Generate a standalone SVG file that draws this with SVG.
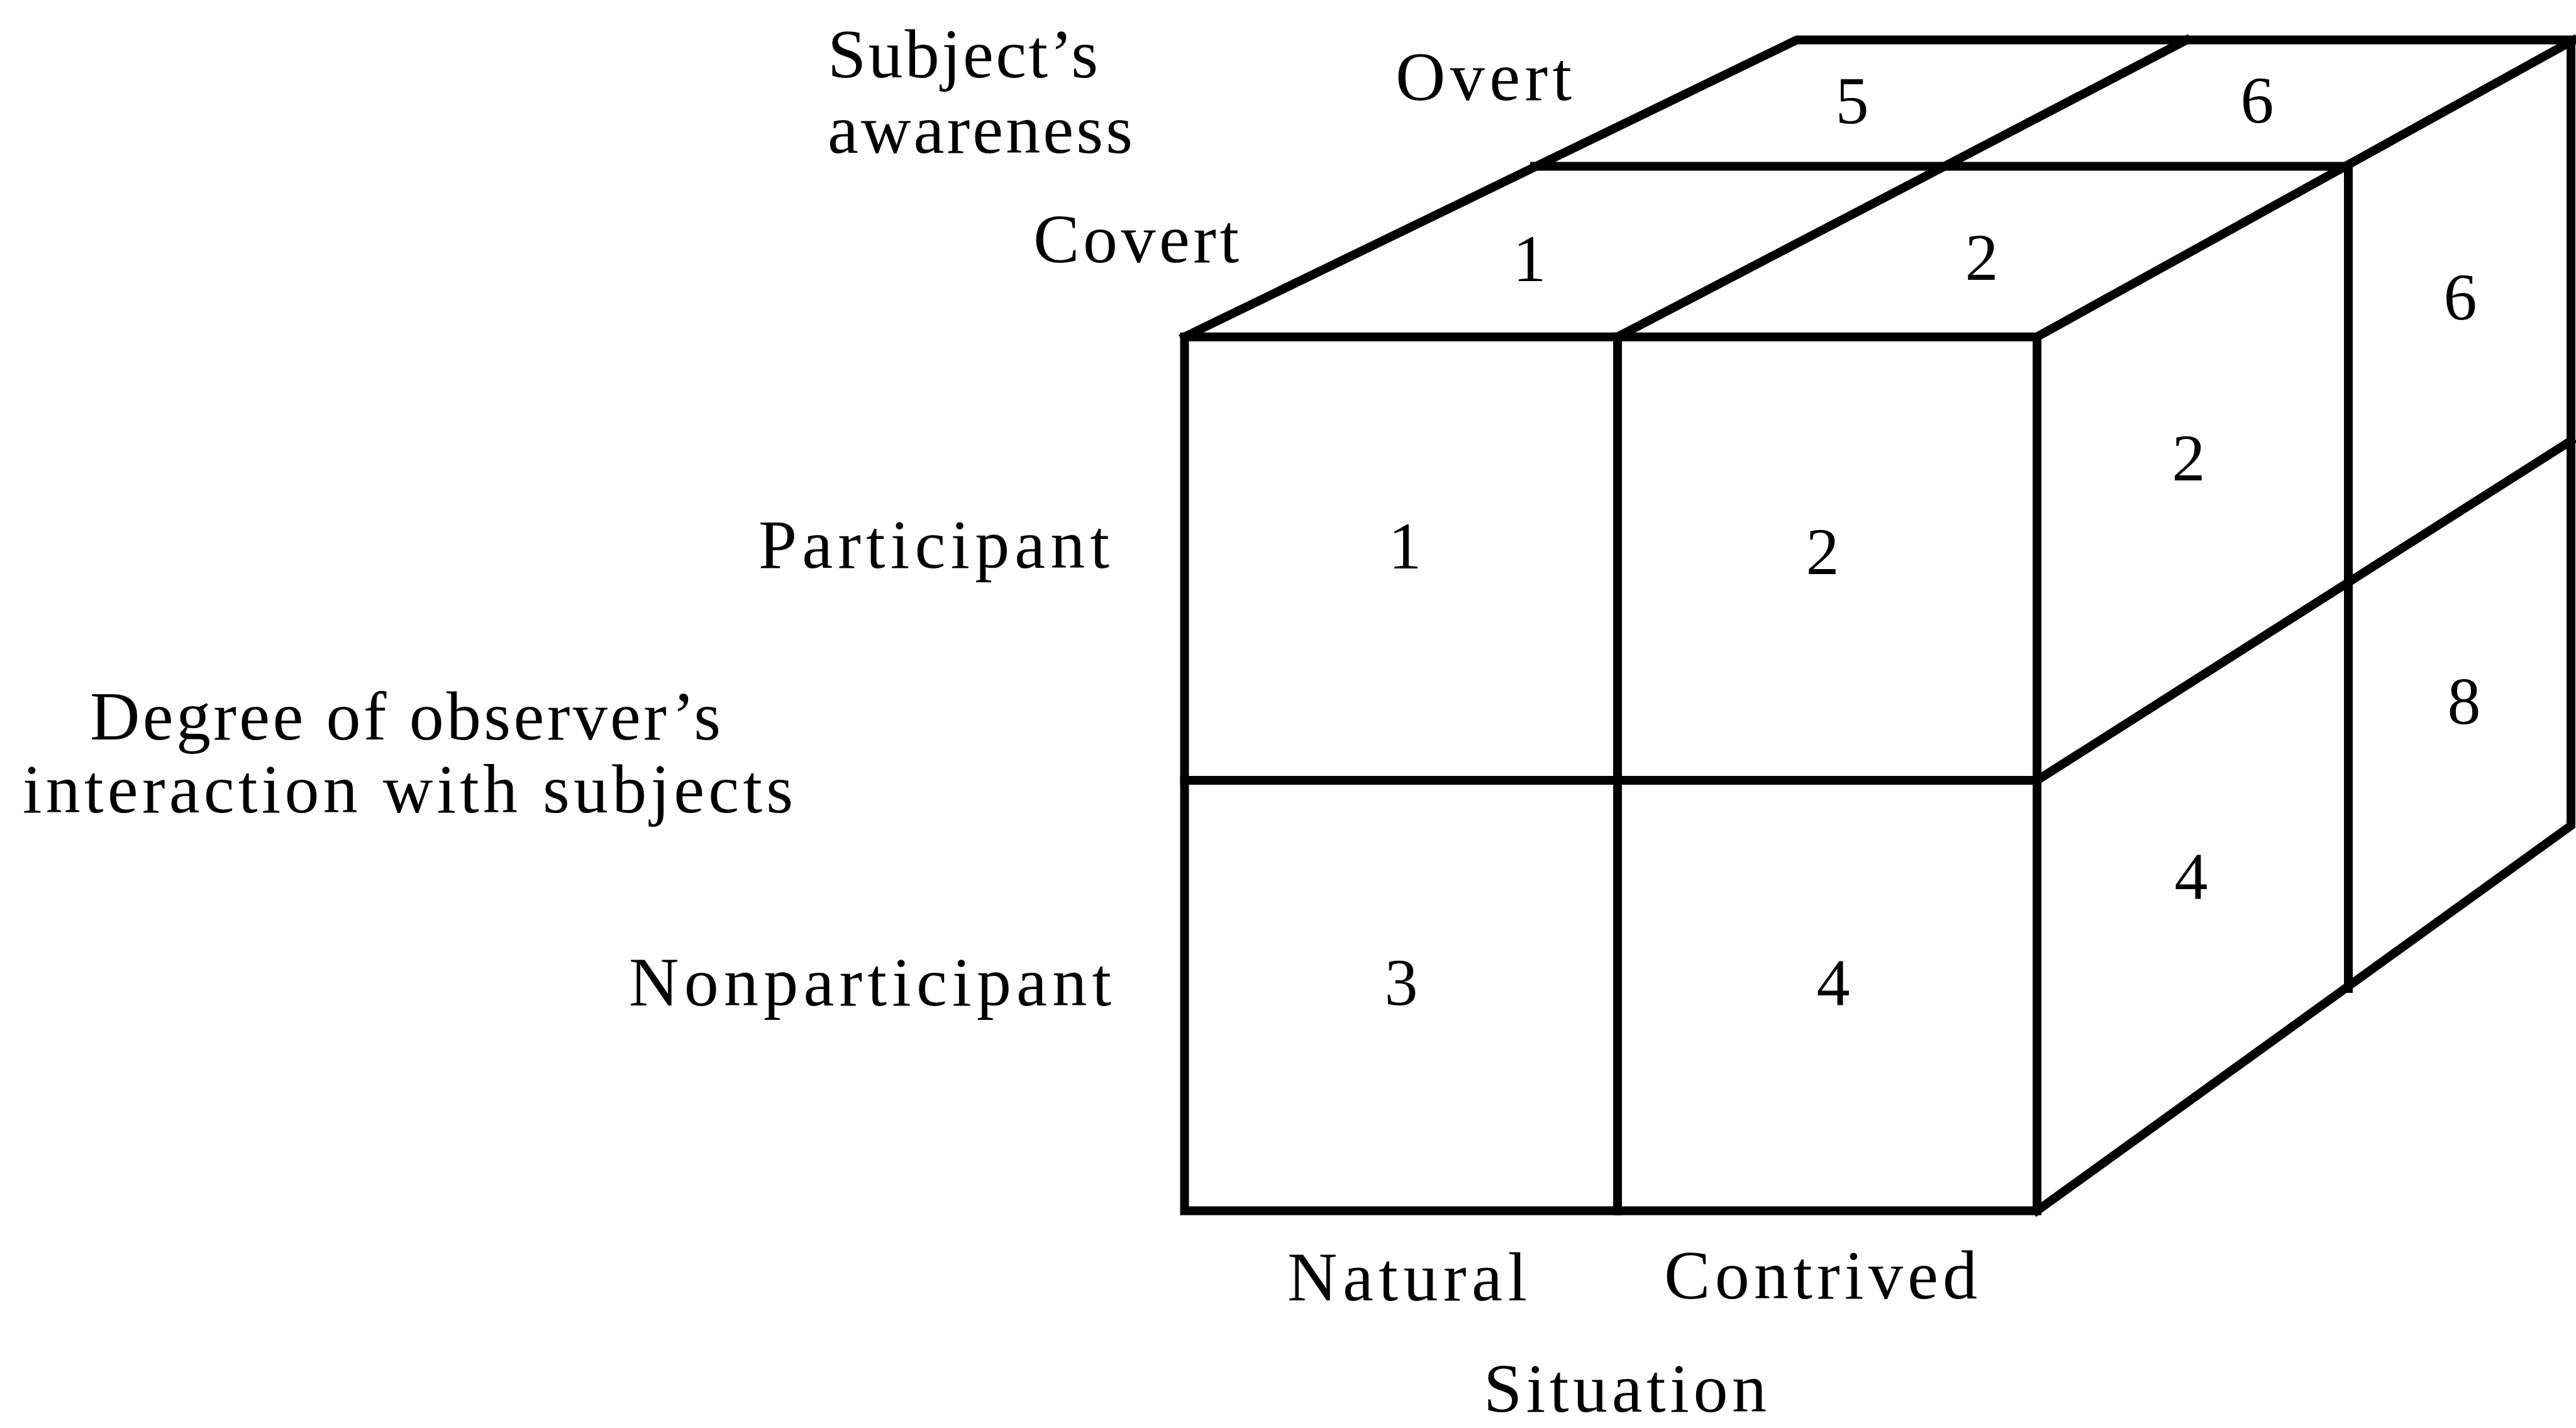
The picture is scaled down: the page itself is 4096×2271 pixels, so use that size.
<svg xmlns="http://www.w3.org/2000/svg" width="4096" height="2271" viewBox="0 0 4096 2271">
<style>
.edge{fill:none;stroke:#000;stroke-width:14;stroke-linejoin:miter;stroke-linecap:square}
.lbl{font-family:"Liberation Serif","Times New Roman",serif;font-size:110px;fill:#000}
.num{font-family:"Liberation Serif","Times New Roman",serif;font-size:106px;fill:#000;text-anchor:middle}
</style>
<rect x="0" y="0" width="4096" height="2271" fill="#fff"/>
<g id="cube-edges">
<path class="edge" d="M1883.5,535.7 L3239,535.7 L3239,1925.6 L1883.5,1925.6 Z"/>
<path class="edge" d="M2572,535.7 L2572,1925.6"/>
<path class="edge" d="M1883.5,1241 L3239,1241"/>
<path class="edge" d="M1883.5,535.7 L2857,63.4 L4092,63.4"/>
<path class="edge" d="M2440,264.4 L3733,264.4"/>
<path class="edge" d="M2572,535.7 L3476,64"/>
<path class="edge" d="M3239,535.7 L4088,66 L4088,1313 L3239,1925.6"/>
<path class="edge" d="M3734,264.4 L3734,1572"/>
<path class="edge" d="M3239,1241 L4088,701"/>
</g>
<g id="axis-labels">
<text class="lbl" x="1316" y="123" textLength="430" lengthAdjust="spacing">Subject’s</text>
<text class="lbl" x="1316" y="243" textLength="485" lengthAdjust="spacing">awareness</text>
<text class="lbl" x="2219" y="159" textLength="280" lengthAdjust="spacing">Overt</text>
<text class="lbl" x="1643" y="417" textLength="327" lengthAdjust="spacing">Covert</text>
<text class="lbl" x="1206" y="903" textLength="558" lengthAdjust="spacing">Participant</text>
<text class="lbl" x="143" y="1176" textLength="1003" lengthAdjust="spacing">Degree of observer’s</text>
<text class="lbl" x="36" y="1292" textLength="1225" lengthAdjust="spacing">interaction with subjects</text>
<text class="lbl" x="1000" y="1599" textLength="767" lengthAdjust="spacing">Nonparticipant</text>
<text class="lbl" x="2047" y="2068" textLength="381" lengthAdjust="spacing">Natural</text>
<text class="lbl" x="2646" y="2065" textLength="498" lengthAdjust="spacing">Contrived</text>
<text class="lbl" x="2359" y="2245" textLength="450" lengthAdjust="spacing">Situation</text>
</g>
<g id="cell-numbers">
<g id="front-1"><text class="num" x="2234" y="904">1</text></g>
<g id="front-2"><text class="num" x="2898" y="913">2</text></g>
<g id="front-3"><text class="num" x="2228" y="1598">3</text></g>
<g id="front-4"><text class="num" x="2915" y="1598">4</text></g>
<g id="side-2"><text class="num" x="3480" y="764">2</text></g>
<g id="side-6"><text class="num" x="3912" y="508">6</text></g>
<g id="side-8"><text class="num" x="3918" y="1151">8</text></g>
<g id="side-4"><text class="num" x="3484" y="1429">4</text></g>
<g id="top-1"><text class="num" x="2432" y="447">1</text></g>
<g id="top-2"><text class="num" x="3151" y="445">2</text></g>
<g id="top-5"><text class="num" x="2945" y="196">5</text></g>
<g id="top-6"><text class="num" x="3589" y="195">6</text></g>
</g>
</svg>
